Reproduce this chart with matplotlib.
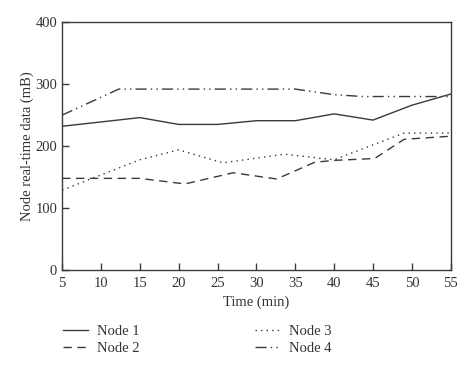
import matplotlib
matplotlib.use("Agg")
from matplotlib import pyplot as plt

plt.rcParams['font.family'] = ['Liberation Serif', 'DejaVu Serif']

# values
x1 = [5, 10, 15, 20, 25, 30, 35, 40, 45, 50, 55]
node1 = [232, 239, 246, 235, 235, 241, 241, 252, 242, 266, 284]

x2 = [5, 10, 15, 20.8, 27, 32.6, 37.5, 40, 45.2, 49, 55]
node2 = [148, 148, 148, 139, 157, 147, 174, 177, 180, 211, 216]

x3 = [5, 15, 20, 25.7, 33.6, 40, 45, 49, 55]
node3 = [129, 178, 194, 173, 187, 178, 202, 221, 221]

x4 = [5, 12.3, 35, 40, 43.7, 55]
node4 = [250, 292, 292, 283, 280, 280]

labels = ["Node 1", "Node 2", "Node 3", "Node 4"]
col = "#3a3a3a"

fig = plt.figure(figsize=(4.74, 3.69), dpi=100)
ax = fig.add_axes([0.131, 0.268, 0.82, 0.672])

l1, = ax.plot(x1, node1, color=col, lw=1.0, linestyle='-')
l2, = ax.plot(x2, node2, color=col, lw=1.0, linestyle=(0, (6, 4)))
l3, = ax.plot(x3, node3, color=col, lw=1.0, linestyle=(0, (1, 3)))
l4, = ax.plot(x4, node4, color=col, lw=1.0, linestyle=(0, (8, 3, 1, 3, 1, 3)))

ax.set_xlim(5, 55)
ax.set_ylim(0, 400)
ax.set_xticks(range(5, 56, 5))
ax.set_yticks(range(0, 401, 100))
ax.tick_params(direction='in', length=5, width=1, colors=col, labelsize=10.5,
               labelcolor='#333333')
ax.tick_params(axis='x', pad=5)
for s in ax.spines.values():
    s.set_color(col)
    s.set_linewidth(1)

ax.set_xlabel("Time (min)", fontsize=10.5, color='#333333', labelpad=4)
ax.set_ylabel("Node real-time data (mB)", fontsize=10.5, color='#333333', labelpad=1)

leg = fig.legend([l1, l2, l3, l4], labels,
                 loc='upper left', bbox_to_anchor=(0.105, 0.155), ncol=2,
                 frameon=False, fontsize=10.5, handlelength=1.75, columnspacing=7.9,
                 labelspacing=0.25, handletextpad=0.6)
for t in leg.get_texts():
    t.set_color('#333333')

fig.savefig("out.png", dpi=100)
